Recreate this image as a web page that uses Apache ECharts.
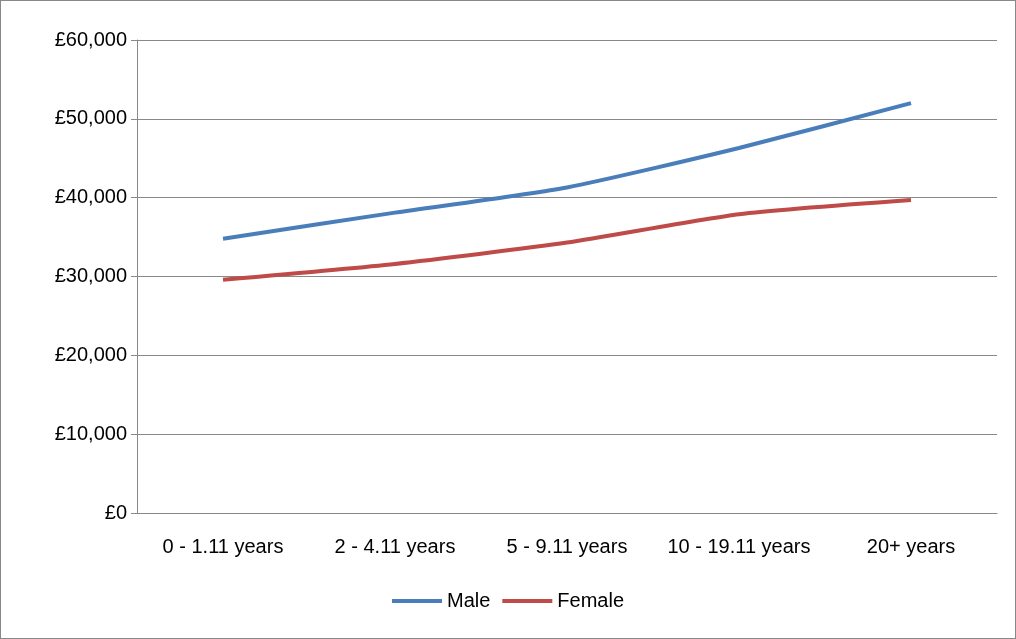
<!DOCTYPE html>
<html>
<head>
<meta charset="UTF-8">
<script src="https://cdn.jsdelivr.net/npm/echarts@6/dist/echarts.min.js"></script>
</head>
<body style="margin:0;background:#fff;">
<div id="main" style="width:1016px;height:639px;box-sizing:border-box;border:1px solid #888;"></div>
<script type="text/javascript">
var categories = ['0 - 1.11 years', '2 - 4.11 years', '5 - 9.11 years', '10 - 19.11 years', '20+ years'];
var maleData = [34800, 38100, 41300, 46300, 52000];
var femaleData = [29600, 31600, 34300, 37900, 39700];

var myChart = echarts.init(document.getElementById('main'));
var font = 'Liberation Sans';
var option = {
    animation: false,
    grid: { left: 136, right: 18, top: 39, bottom: 125 },
    legend: {
        bottom: 22,
        left: 'center',
        itemWidth: 50, itemHeight: 4,
        itemGap: 12,
        icon: 'rect',
        textStyle: { fontFamily: font, fontSize: 20, color: '#000' },
        data: ['Male', 'Female']
    },
    xAxis: {
        type: 'category',
        data: categories,
        axisLine: { lineStyle: { color: '#888' } },
        axisTick: { length: 6, lineStyle: { color: '#888' } },
        axisLabel: { interval: 0, margin: 24, fontFamily: font, fontSize: 20, color: '#000' }
    },
    yAxis: {
        type: 'value',
        min: 0, max: 60000, interval: 10000,
        axisLine: { show: true, lineStyle: { color: '#888' } },
        axisTick: { show: true, length: 6, lineStyle: { color: '#888' } },
        splitLine: { lineStyle: { color: '#888' } },
        axisLabel: {
            margin: 10, fontFamily: font, fontSize: 20, color: '#000',
            formatter: function (v) { return '£' + v.toLocaleString('en-GB'); }
        }
    },
    series: [
        { name: 'Male', type: 'line', data: maleData, smooth: 0.2, symbol: 'none',
          lineStyle: { width: 4, color: '#4a7ebb' }, itemStyle: { color: '#4a7ebb' } },
        { name: 'Female', type: 'line', data: femaleData, smooth: 0.2, symbol: 'none',
          lineStyle: { width: 4, color: '#be4b48' }, itemStyle: { color: '#be4b48' } }
    ]
};
myChart.setOption(option);
</script>
</body>
</html>
